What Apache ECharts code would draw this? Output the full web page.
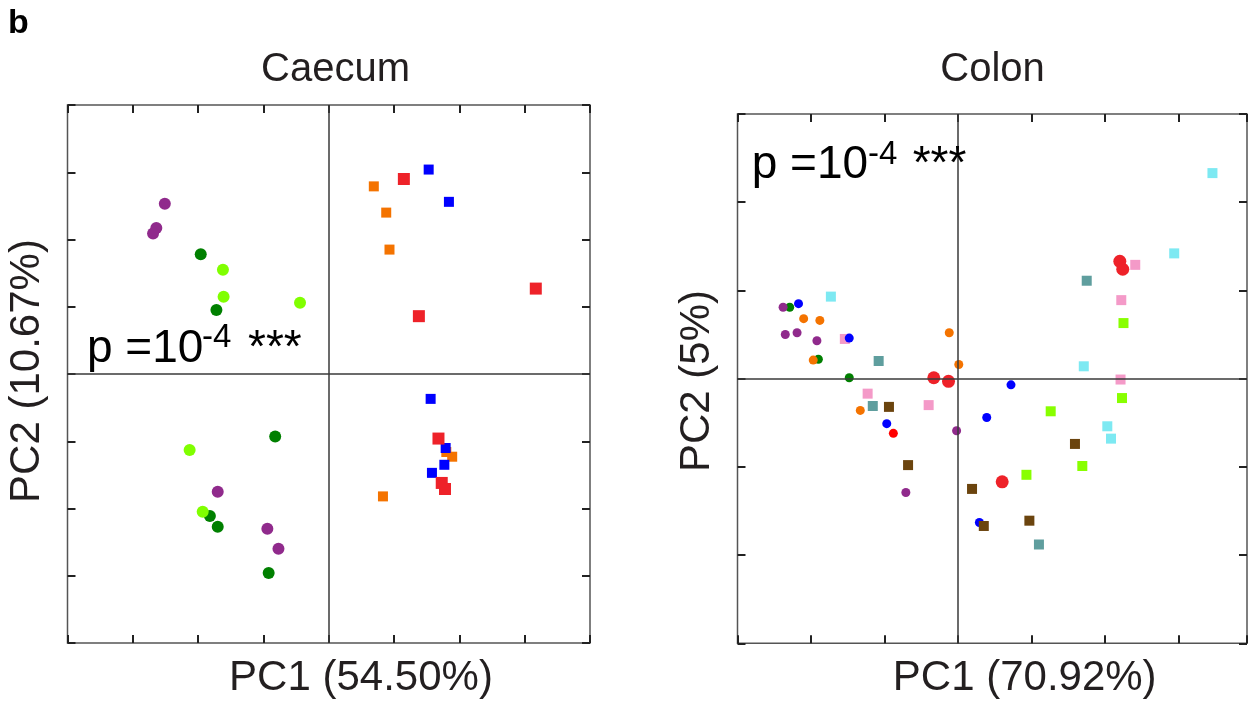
<!DOCTYPE html>
<html>
<head>
<meta charset="utf-8">
<script src="https://cdn.jsdelivr.net/npm/echarts@6/dist/echarts.min.js"></script>
<style>
html,body{margin:0;padding:0;background:#fff;}
#chart{width:1248px;height:702px;}
</style>
</head>
<body>
<div id="chart"></div>
<script>
// ---- Data (PC1, PC2) ----
// Caecum panel
var caecumPurple = [[-2.51,2.53],[-2.64,2.17],[-2.69,2.09],[-1.70,-1.75],[-0.94,-2.30],[-0.77,-2.60]];
var caecumDarkGreen = [[-1.96,1.78],[-1.72,0.95],[-0.82,-0.93],[-1.82,-2.11],[-1.70,-2.27],[-0.92,-2.96]];
var caecumLime = [[-1.62,1.55],[-1.61,1.15],[-0.44,1.06],[-2.13,-1.13],[-1.93,-2.05]];
var caecumOrange = [[0.69,2.79],[0.88,2.40],[0.93,1.85],[1.80,-1.16],[1.89,-1.23],[0.83,-1.82]];
var caecumBlue = [[1.53,3.04],[1.84,2.56],[1.56,-0.37],[1.79,-1.10],[1.77,-1.35],[1.58,-1.47]];
var caecumRed = [[1.15,2.90],[3.17,1.27],[1.38,0.86],[1.68,-0.96],[1.73,-1.62],[1.78,-1.71]];

// Colon panel
var colonPink = [[-1.54,0.45],[-1.23,-0.17],[-0.40,-0.30],[2.41,1.29],[2.22,0.89],[2.21,-0.01]];
var colonTeal = [[-1.08,0.20],[-1.16,-0.31],[1.75,1.11],[1.10,-1.88]];
var colonCyan = [[-1.73,0.93],[3.46,2.33],[2.94,1.42],[1.71,0.14],[2.03,-0.54],[2.08,-0.68]];
var colonGreen = [[-2.29,0.81],[-1.90,0.22],[-1.48,0.01]];
var colonBlue = [[-2.17,0.85],[-1.48,0.46],[-0.97,-0.51],[0.72,-0.07],[0.39,-0.44],[0.29,-1.63]];
var colonBrown = [[-0.94,-0.32],[-0.68,-0.98],[0.19,-1.25],[0.35,-1.67],[0.97,-1.61],[1.59,-0.74]];
var colonLime = [[1.26,-0.37],[0.93,-1.09],[1.69,-0.99],[2.25,0.63],[2.23,-0.22]];
var colonOrange = [[-2.10,0.68],[-1.88,0.66],[-1.97,0.21],[-0.12,0.52],[0.01,0.16],[-1.33,-0.36]];
var colonPurple = [[-2.38,0.81],[-2.35,0.50],[-2.19,0.52],[-1.92,0.43],[-0.02,-0.59],[-0.71,-1.29]];
var colonRedBig = [[-0.33,0.01],[-0.13,-0.03],[0.60,-1.17],[2.20,1.33],[2.24,1.24]];
var colonRedSmall = [[-0.88,-0.62]];

// Axis ranges / labels
var caecumRange = {xmin:-4, xmax:4, ymin:-4, ymax:4};
var colonRange = {xmin:-3, xmax:3.93, ymin:-3, ymax:3};
var panelTitles = ['Caecum','Colon'];
var xNames = ['PC1 (54.50%)','PC1 (70.92%)'];
var yNames = ['PC2 (10.67%)','PC2 (5%)'];
var pText = 'p =10', pSup = '-4', pStars = '***';

// ---- Chart ----
var chart = echarts.init(document.getElementById('chart'), null, {renderer:'canvas'});
var FONT = '"Liberation Sans", Arial, Helvetica, sans-serif';
var TXT = '#231f20';

function xAx(grid, r, pos){
  return {gridIndex:grid, type:'value', min:r.xmin, max:r.xmax, interval:1, position:pos,
    axisLine:{show:false, onZero:false}, axisLabel:{show:false}, splitLine:{show:false},
    axisTick:{show:true, inside:true, length:8, lineStyle:{color:'#222', width:2}}};
}
function yAx(grid, r, pos){
  return {gridIndex:grid, type:'value', min:r.ymin, max:r.ymax, interval:1, position:pos,
    axisLine:{show:false, onZero:false}, axisLabel:{show:false}, splitLine:{show:false},
    axisTick:{show:true, inside:true, length:8, lineStyle:{color:'#222', width:2}}};
}
function sc(data, xi, yi, shape, size, color, z){
  return {type:'scatter', data:data, xAxisIndex:xi, yAxisIndex:yi, symbol:shape, symbolSize:size,
    itemStyle:{color:color, opacity:1}, z:z||2, silent:true};
}
var cross = {silent:true, symbol:['none','none'], label:{show:false},
  lineStyle:{type:'solid', color:'#3a3a3a', width:1.5}, data:[{xAxis:0},{yAxis:0}], animation:false};

var series = [
  sc(caecumDarkGreen,0,0,'circle',12,'#008000'),
  sc(caecumLime,0,0,'circle',12,'#80ff00'),
  sc(caecumPurple,0,0,'circle',12,'#902a8c'),
  sc(caecumOrange,0,0,'rect',10,'#f47300'),
  sc(caecumBlue,0,0,'rect',10,'#0000ff'),
  sc(caecumRed,0,0,'rect',12,'#ee2229'),
  sc(colonPink,2,2,'rect',10,'#f49ac8'),
  sc(colonTeal,2,2,'rect',10,'#5f9e9e'),
  sc(colonCyan,2,2,'rect',10,'#7de9f2'),
  sc(colonGreen,2,2,'circle',9,'#007f00'),
  sc(colonBlue,2,2,'circle',9,'#0000ff'),
  sc(colonBrown,2,2,'rect',10,'#6b440e'),
  sc(colonLime,2,2,'rect',10,'#88ff00'),
  sc(colonOrange,2,2,'circle',9,'#f47300'),
  sc(colonPurple,2,2,'circle',9,'#902a8c'),
  sc(colonRedBig,2,2,'circle',13,'#ee2229'),
  sc(colonRedSmall,2,2,'circle',9,'#ff0000')
];
series[0].markLine = cross;
series[6].markLine = JSON.parse(JSON.stringify(cross));

function txt(s, x, y, size, opts){
  opts = opts || {};
  return {type:'text', x:x, y:y, rotation:opts.rot||0, z:100, silent:true,
    style:{text:s, x:0, y:0, fill:opts.fill||TXT, font:(opts.weight||'normal')+' '+size+'px '+FONT,
      textAlign:opts.align||'center', textVerticalAlign:'middle', verticalAlign:'middle', align:opts.align||'center'}};
}

var graphics = [
  txt('b', 8, 24, 34, {weight:'bold', align:'left', fill:'#000'}),
  txt(panelTitles[0], 335.5, 69.5, 40),
  txt(panelTitles[1], 992.5, 69.5, 40),
  txt(xNames[0], 361, 678, 42),
  txt(xNames[1], 1024.7, 678, 42),
  txt(yNames[0], 27.5, 371, 42, {rot:Math.PI/2}),
  txt(yNames[1], 697, 381, 42, {rot:Math.PI/2}),
  // p-value annotations
  txt(pText, 87, 349, 46, {align:'left', fill:'#000'}),
  txt(pSup, 202, 338, 33, {align:'left', fill:'#000'}),
  txt(pStars, 248, 349, 46, {align:'left', fill:'#000'}),
  txt(pText, 751.7, 165.8, 46, {align:'left', fill:'#000'}),
  txt(pSup, 868, 155, 33, {align:'left', fill:'#000'}),
  txt(pStars, 912.7, 165.8, 46, {align:'left', fill:'#000'})
];

chart.setOption({
  animation:false,
  backgroundColor:'#ffffff',
  grid:[
    {left:67.5, top:105, width:522.5, height:538, show:true, borderColor:'#555', borderWidth:1.5, backgroundColor:'transparent'},
    {left:737.5, top:114, width:509.5, height:529.3, show:true, borderColor:'#555', borderWidth:1.5, backgroundColor:'transparent'}
  ],
  xAxis:[xAx(0,caecumRange,'bottom'), xAx(0,caecumRange,'top'), xAx(1,colonRange,'bottom'), xAx(1,colonRange,'top')],
  yAxis:[yAx(0,caecumRange,'left'), yAx(0,caecumRange,'right'), yAx(1,colonRange,'left'), yAx(1,colonRange,'right')],
  series:series,
  graphic:graphics
});
</script>
</body>
</html>
